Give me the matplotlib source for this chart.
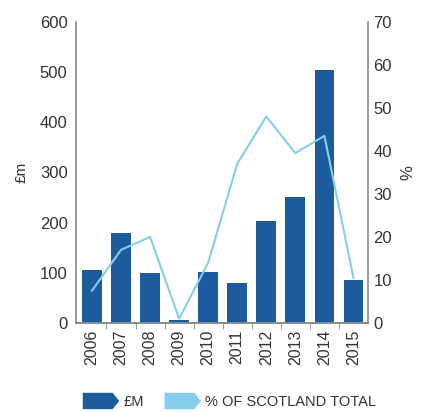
import numpy as np
import matplotlib.pyplot as plt
from matplotlib.patches import Patch, Polygon
from matplotlib.legend_handler import HandlerPatch

plt.rcParams['font.family'] = ['Liberation Sans', 'DejaVu Sans']

# data
years = ['2006', '2007', '2008', '2009', '2010', '2011', '2012', '2013', '2014', '2015']
gbp_m = [106, 179, 100, 5, 101, 80, 203, 251, 505, 86]
pct_scotland = [7.5, 17, 20, 1, 14, 37, 48, 39.5, 43.5, 10.5]

dark_blue = '#1c5c9c'
light_blue = '#86cdee'
text_col = '#333333'
spine_col = '#8a8a8a'


class ArrowHandler(HandlerPatch):
    # pentagon-shaped legend key, like an arrow tab
    def create_artists(self, legend, orig_handle, xdescent, ydescent,
                       width, height, fontsize, trans):
        x0, y0 = -xdescent, -ydescent
        w, h = width, height
        pts = [(x0, y0), (x0 + 0.82 * w, y0), (x0 + w, y0 + 0.5 * h),
               (x0 + 0.82 * w, y0 + h), (x0, y0 + h)]
        p = Polygon(pts, closed=True, facecolor=orig_handle.get_facecolor(),
                    edgecolor='none', transform=trans)
        return [p]


fig = plt.figure(figsize=(4.22, 4.12), dpi=100)
ax = fig.add_axes([0.180, 0.216, 0.692, 0.731])
ax2 = ax.twinx()

x = np.arange(len(years))
ax.bar(x, gbp_m, width=0.68, color=dark_blue, zorder=2)
ax2.plot(x, pct_scotland, color=light_blue, linewidth=1.5, zorder=3)

ax.set_xlim(-0.55, len(years) - 0.5)
ax.set_ylim(0, 600)
ax.set_yticks([0, 100, 200, 300, 400, 500, 600])
ax2.set_ylim(0, 70)
ax2.set_yticks([0, 10, 20, 30, 40, 50, 60, 70])

ax.set_xticks(x)
ax.set_xticklabels(years, rotation=90, fontsize=11.5, color=text_col)
ax.set_xticks(x[:-1] + 0.5, minor=True)
ax.tick_params(axis='x', which='major', length=0, pad=5)
ax.tick_params(axis='x', which='minor', length=4, color=spine_col)
ax.tick_params(axis='y', length=0, labelsize=12, labelcolor=text_col, pad=6)
ax2.tick_params(axis='y', length=0, labelsize=12, labelcolor=text_col, pad=4)

ax.set_ylabel('£m', fontsize=11, color=text_col, labelpad=8)
ax2.set_ylabel('%', fontsize=12, color=text_col, labelpad=6)

for a in (ax, ax2):
    a.spines['top'].set_visible(False)
    for s in ('left', 'right', 'bottom'):
        a.spines[s].set_color(spine_col)
        a.spines[s].set_linewidth(1.2)
ax.spines['right'].set_visible(False)
ax2.spines['left'].set_visible(False)

handles = [Patch(facecolor=dark_blue), Patch(facecolor=light_blue)]
fig.legend(handles, ['£M', '% OF SCOTLAND TOTAL'], loc='lower left',
           bbox_to_anchor=(0.165, -0.025), ncol=2, frameon=False,
           handler_map={Patch: ArrowHandler()}, handlelength=2.5,
           handleheight=1.35, handletextpad=0.3, columnspacing=1.4,
           fontsize=10.5, labelcolor=text_col)

fig.savefig('out.png', dpi=100)
